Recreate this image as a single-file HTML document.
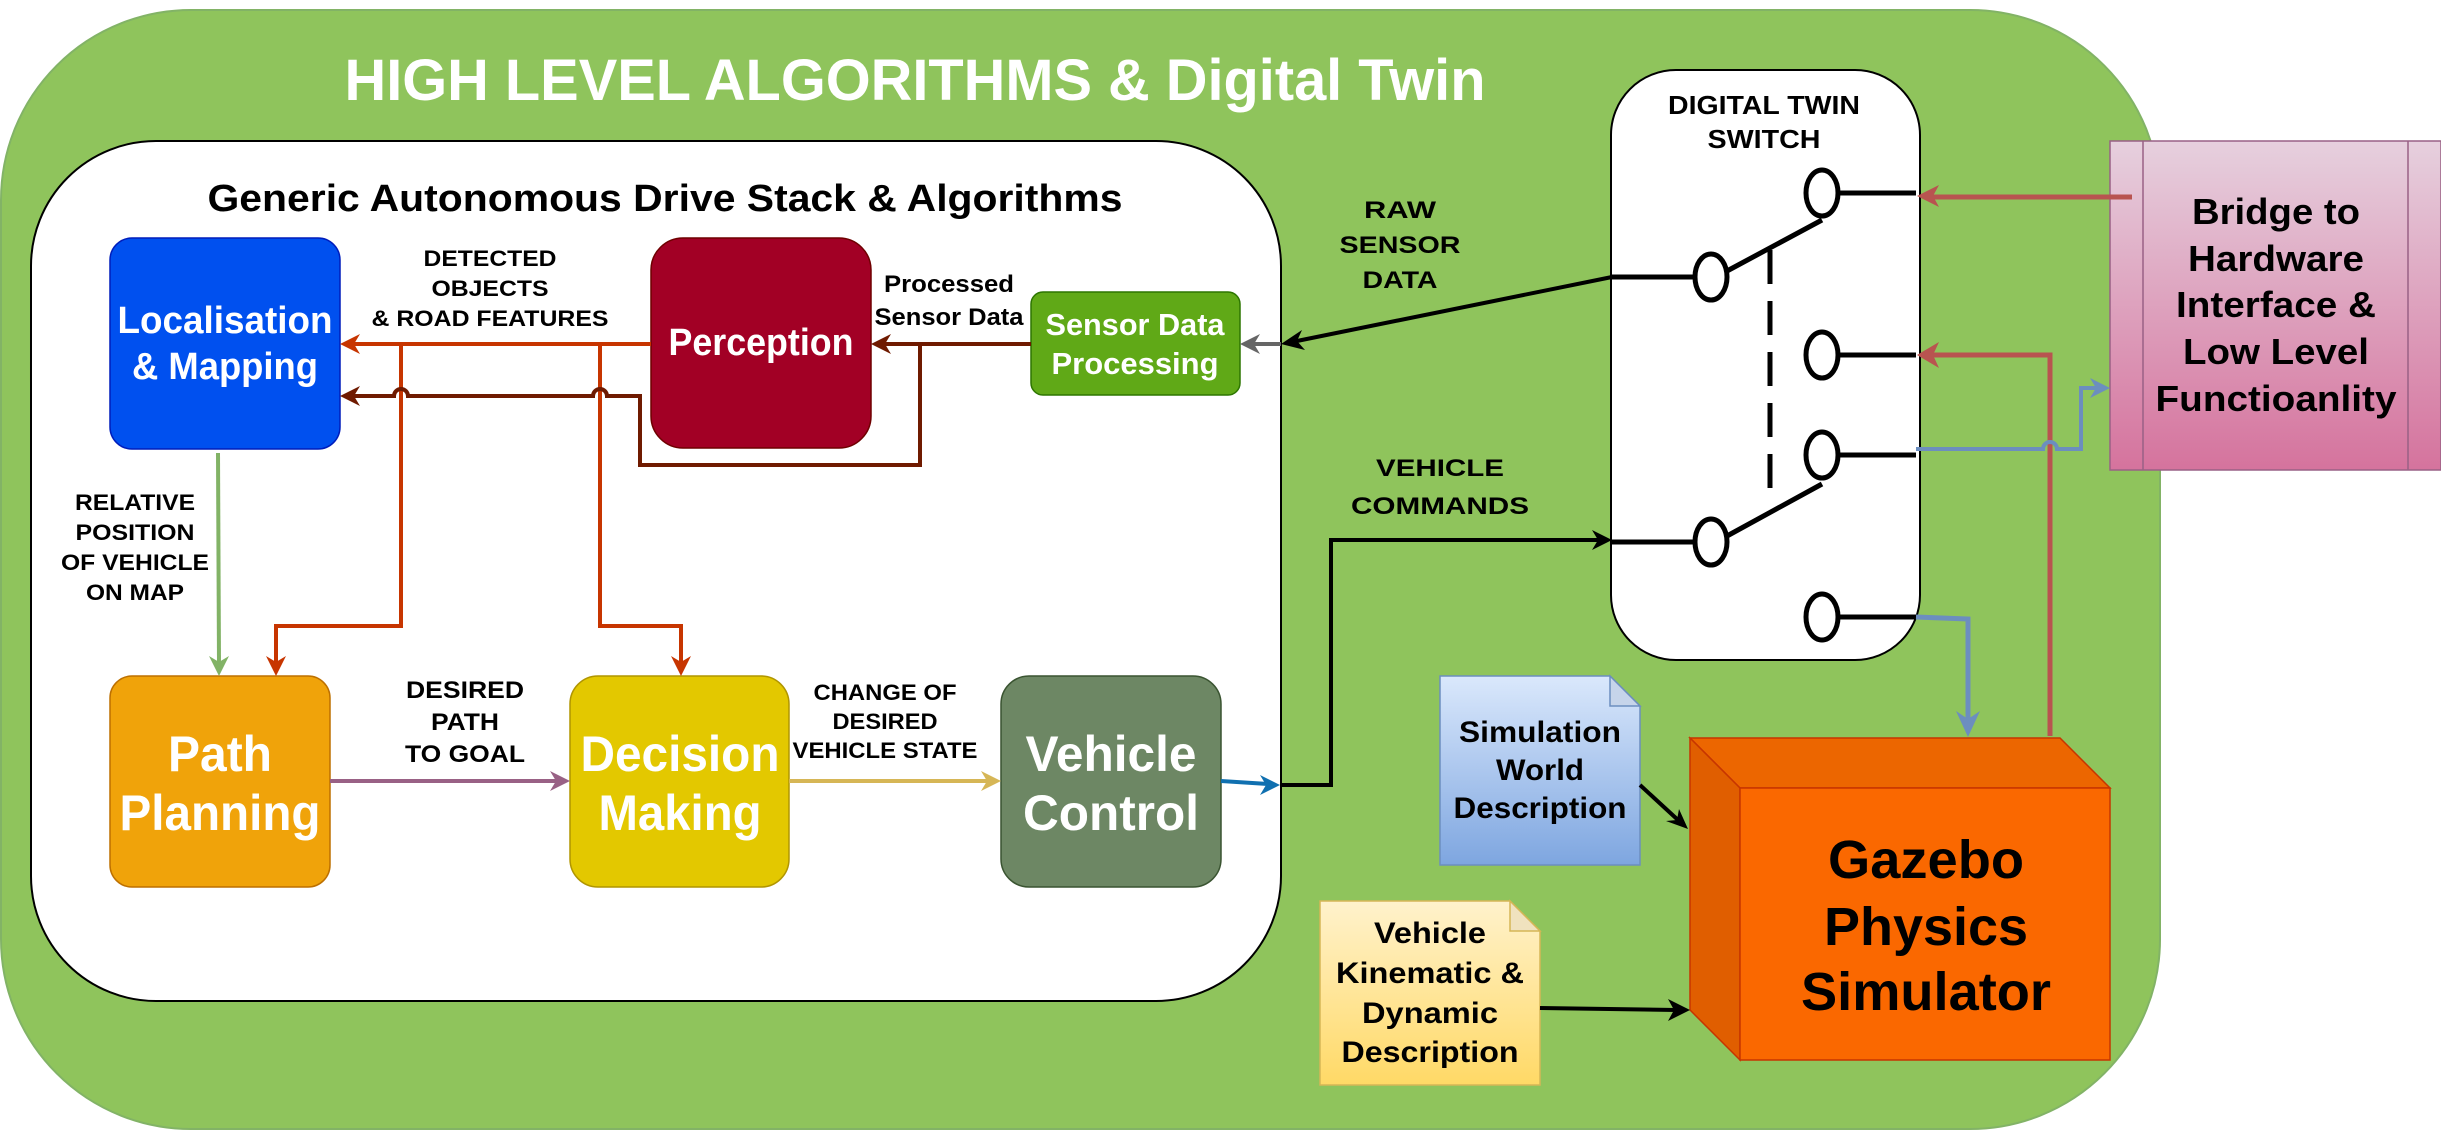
<!DOCTYPE html>
<html><head><meta charset="utf-8"><style>html,body{margin:0;padding:0;background:#fff}svg{display:block}text{font-family:"Liberation Sans",Arial,sans-serif;font-weight:bold}</style></head>
<body>
<svg width="2441" height="1131" viewBox="0 0 2441 1131" xmlns="http://www.w3.org/2000/svg">
<defs>
<linearGradient id="gb" x1="0" y1="0" x2="0" y2="1"><stop offset="0" stop-color="#E6D0DE"/><stop offset="1" stop-color="#D5739D"/></linearGradient>
<linearGradient id="gs" x1="0" y1="0" x2="0" y2="1"><stop offset="0" stop-color="#DAE8FC"/><stop offset="1" stop-color="#7EA6E0"/></linearGradient>
<linearGradient id="gv" x1="0" y1="0" x2="0" y2="1"><stop offset="0" stop-color="#FFF2CC"/><stop offset="1" stop-color="#FFD966"/></linearGradient>
</defs>
<!-- outer -->
<rect x="1" y="10" width="2159" height="1119" rx="190" fill="#8FC45C" stroke="#82B366" stroke-width="2"/>
<text x="915" y="100" font-size="58" fill="#fff" text-anchor="middle" textLength="1141" lengthAdjust="spacingAndGlyphs">HIGH LEVEL ALGORITHMS &amp; Digital Twin</text>
<!-- inner -->
<rect x="31" y="141" width="1250" height="860" rx="125" fill="#fff" stroke="#000" stroke-width="2"/>
<text x="665" y="211" font-size="38" fill="#000" text-anchor="middle" textLength="915" lengthAdjust="spacingAndGlyphs">Generic Autonomous Drive Stack &amp; Algorithms</text>

<!-- boxes -->
<rect x="110" y="238" width="230" height="211" rx="22" fill="#0050EF" stroke="#001DBC" stroke-width="1.5"/>
<text x="225" y="333" font-size="38" fill="#fff" text-anchor="middle" textLength="215" lengthAdjust="spacingAndGlyphs">Localisation</text>
<text x="225" y="379" font-size="38" fill="#fff" text-anchor="middle" textLength="186" lengthAdjust="spacingAndGlyphs">&amp; Mapping</text>

<rect x="651" y="238" width="220" height="210" rx="32" fill="#A20025" stroke="#6F0000" stroke-width="1.5"/>
<text x="761" y="355" font-size="38" fill="#fff" text-anchor="middle" textLength="185" lengthAdjust="spacingAndGlyphs">Perception</text>

<rect x="1031" y="292" width="209" height="103" rx="12" fill="#60A917" stroke="#2D7600" stroke-width="1.5"/>
<text x="1135" y="335" font-size="31" fill="#fff" text-anchor="middle" textLength="179" lengthAdjust="spacingAndGlyphs">Sensor Data</text>
<text x="1135" y="374" font-size="31" fill="#fff" text-anchor="middle" textLength="167" lengthAdjust="spacingAndGlyphs">Processing</text>

<rect x="110" y="676" width="220" height="211" rx="22" fill="#F0A30A" stroke="#BD7000" stroke-width="1.5"/>
<text x="220" y="771" font-size="50" fill="#fff" text-anchor="middle" textLength="104" lengthAdjust="spacingAndGlyphs">Path</text>
<text x="220" y="830" font-size="50" fill="#fff" text-anchor="middle" textLength="201" lengthAdjust="spacingAndGlyphs">Planning</text>

<rect x="570" y="676" width="219" height="211" rx="28" fill="#E3C800" stroke="#B09500" stroke-width="1.5"/>
<text x="680" y="771" font-size="50" fill="#fff" text-anchor="middle" textLength="199" lengthAdjust="spacingAndGlyphs">Decision</text>
<text x="680" y="830" font-size="50" fill="#fff" text-anchor="middle" textLength="163" lengthAdjust="spacingAndGlyphs">Making</text>

<rect x="1001" y="676" width="220" height="211" rx="28" fill="#6D8764" stroke="#3A5431" stroke-width="1.5"/>
<text x="1111" y="771" font-size="50" fill="#fff" text-anchor="middle" textLength="171" lengthAdjust="spacingAndGlyphs">Vehicle</text>
<text x="1111" y="830" font-size="50" fill="#fff" text-anchor="middle" textLength="176" lengthAdjust="spacingAndGlyphs">Control</text>

<!-- labels -->
<g font-size="22" fill="#000" text-anchor="middle">
<text x="490" y="266" textLength="133" lengthAdjust="spacingAndGlyphs">DETECTED</text>
<text x="490" y="296" textLength="117" lengthAdjust="spacingAndGlyphs">OBJECTS</text>
<text x="490" y="326" textLength="237" lengthAdjust="spacingAndGlyphs">&amp; ROAD FEATURES</text>
<text x="135" y="510" textLength="120" lengthAdjust="spacingAndGlyphs">RELATIVE</text>
<text x="135" y="540" textLength="119" lengthAdjust="spacingAndGlyphs">POSITION</text>
<text x="135" y="570" textLength="148" lengthAdjust="spacingAndGlyphs">OF VEHICLE</text>
<text x="135" y="600" textLength="98" lengthAdjust="spacingAndGlyphs">ON MAP</text>
<text x="885" y="700" textLength="143" lengthAdjust="spacingAndGlyphs">CHANGE OF</text>
<text x="885" y="729" textLength="105" lengthAdjust="spacingAndGlyphs">DESIRED</text>
<text x="885" y="758" textLength="185" lengthAdjust="spacingAndGlyphs">VEHICLE STATE</text>
</g>
<g font-size="24" fill="#000" text-anchor="middle">
<text x="949" y="292" textLength="130" lengthAdjust="spacingAndGlyphs">Processed</text>
<text x="949" y="325" textLength="149" lengthAdjust="spacingAndGlyphs">Sensor Data</text>
<text x="465" y="698" textLength="118" lengthAdjust="spacingAndGlyphs">DESIRED</text>
<text x="465" y="730" textLength="68" lengthAdjust="spacingAndGlyphs">PATH</text>
<text x="465" y="762" textLength="120" lengthAdjust="spacingAndGlyphs">TO GOAL</text>
<text x="1400" y="218" textLength="72" lengthAdjust="spacingAndGlyphs">RAW</text>
<text x="1400" y="253" textLength="121" lengthAdjust="spacingAndGlyphs">SENSOR</text>
<text x="1400" y="288" textLength="75" lengthAdjust="spacingAndGlyphs">DATA</text>
<text x="1440" y="476" textLength="128" lengthAdjust="spacingAndGlyphs">VEHICLE</text>
<text x="1440" y="514" textLength="178" lengthAdjust="spacingAndGlyphs">COMMANDS</text>
</g>

<!-- red-orange connectors -->
<g fill="none" stroke="#C73500" stroke-width="4">
<path d="M651 344 H352"/>
<path d="M401 344 V626 H276 V664"/>
<path d="M600 344 V626 H681 V664"/>
</g>
<g fill="#C73500">
<path d="M340 344 l20 -10 l-6 10 l6 10z"/>
<path d="M276 676 l-10 -20 l10 6 l10 -6z"/>
<path d="M681 676 l-10 -20 l10 6 l10 -6z"/>
</g>
<!-- dark brown -->
<g fill="none" stroke="#6F1A00" stroke-width="4">
<path d="M1031 344 H883"/>
<path d="M920 344 V465 H640 V396 H607 a7 7 0 0 0 -14 0 H408 a7 7 0 0 0 -14 0 H352"/>
</g>
<g fill="#6F1A00">
<path d="M871 344 l20 -10 l-6 10 l6 10z"/>
<path d="M340 396 l20 -10 l-6 10 l6 10z"/>
</g>
<!-- green -->
<path d="M218 453 L219 664" stroke="#82B366" stroke-width="4" fill="none"/>
<path d="M219 676 l-10 -20 l10 6 l10 -6z" fill="#82B366"/>
<!-- purple -->
<path d="M330 781 H558" stroke="#996185" stroke-width="4" fill="none"/>
<path d="M570 781 l-20 -10 l6 10 l-6 10z" fill="#996185"/>
<!-- yellow -->
<path d="M789 781 H989" stroke="#D6B656" stroke-width="4" fill="none"/>
<path d="M1001 781 l-20 -10 l6 10 l-6 10z" fill="#D6B656"/>
<!-- blue out -->
<path d="M1221 781 L1268 784" stroke="#1070B0" stroke-width="4" fill="none"/>
<path d="M1280 785 l-20 -10 l6 10 l-6 10z" fill="#1070B0"/>
<!-- black commands -->
<path d="M1280 785 H1331 V540 H1600" stroke="#000" stroke-width="4" fill="none"/>
<path d="M1612 540 l-20 -10 l6 10 l-6 10z" fill="#000"/>

<!-- switch -->
<rect x="1611" y="70" width="309" height="590" rx="65" fill="#fff" stroke="#000" stroke-width="2"/>
<text x="1764" y="114" font-size="26" text-anchor="middle" textLength="192" lengthAdjust="spacingAndGlyphs">DIGITAL TWIN</text>
<text x="1764" y="148" font-size="26" text-anchor="middle" textLength="113" lengthAdjust="spacingAndGlyphs">SWITCH</text>
<g fill="none" stroke="#000" stroke-width="5">
<ellipse cx="1822" cy="193" rx="16" ry="23"/>
<ellipse cx="1822" cy="355" rx="16" ry="23"/>
<ellipse cx="1822" cy="455" rx="16" ry="23"/>
<ellipse cx="1822" cy="617" rx="16" ry="23"/>
<ellipse cx="1711" cy="277" rx="16" ry="23"/>
<ellipse cx="1711" cy="542" rx="16" ry="23"/>
<path d="M1838 193 H1916 M1838 355 H1916 M1838 455 H1916 M1838 617 H1916"/>
<path d="M1612 277 H1695 M1612 542 H1695"/>
<path d="M1727 271 L1822 220 M1727 536 L1822 484"/>
<path d="M1770 250 V492" stroke-dasharray="34 17"/>
</g>
<!-- raw sensor arrow -->
<path d="M1612 277 L1292 342" stroke="#000" stroke-width="4" fill="none"/>
<path d="M1281 344 l21 -14 l-5 11 l8 9z" fill="#000"/>
<path d="M1281 344 H1252" stroke="#666" stroke-width="4"/>
<path d="M1240 344 l20 -10 l-6 10 l6 10z" fill="#666"/>

<!-- bridge -->
<rect x="2110" y="141" width="331" height="329" fill="url(#gb)" stroke="#996185" stroke-width="1.5"/>
<path d="M2143 141 V470 M2408 141 V470" stroke="#996185" stroke-width="1.5"/>
<g font-size="36" text-anchor="middle" fill="#000">
<text x="2276" y="224" textLength="168" lengthAdjust="spacingAndGlyphs">Bridge to</text>
<text x="2276" y="271" textLength="176" lengthAdjust="spacingAndGlyphs">Hardware</text>
<text x="2276" y="317" textLength="200" lengthAdjust="spacingAndGlyphs">Interface &amp;</text>
<text x="2276" y="364" textLength="186" lengthAdjust="spacingAndGlyphs">Low Level</text>
<text x="2276" y="411" textLength="241" lengthAdjust="spacingAndGlyphs">Functioanlity</text>
</g>
<!-- red arrows -->
<g fill="none" stroke="#B85450" stroke-width="5">
<path d="M2132 197 H1930"/>
<path d="M2050 736 V355 H1930"/>
</g>
<g fill="#B85450">
<path d="M1917 196 l22 -11 l-6 11 l6 11z"/>
<path d="M1917 355 l22 -13 l-6 13 l6 13z"/>
</g>
<!-- blue arrows -->
<g fill="none" stroke="#6C8EBF" stroke-width="4">
<path d="M1916 449 H2043 a7 7 0 0 1 14 0 H2081 V388 H2098"/>
<path d="M1916 617 L1968 619 V722" stroke-width="5"/>
</g>
<g fill="#6C8EBF">
<path d="M2110 388 l-20 -10 l6 10 l-6 10z"/>
<path d="M1968 737 l-12 -26 l12 8 l12 -8z"/>
</g>

<!-- cube -->
<path d="M1690 738 H2060 L2110 788 H1740 Z" fill="#EC6600" stroke="#C73500" stroke-width="1.5"/>
<path d="M1690 738 L1740 788 V1060 L1690 1010 Z" fill="#E05E00" stroke="#C73500" stroke-width="1.5"/>
<rect x="1740" y="788" width="370" height="272" fill="#FA6800" stroke="#C73500" stroke-width="1.5"/>
<g font-size="54" text-anchor="middle" fill="#000">
<text x="1926" y="878" textLength="196" lengthAdjust="spacingAndGlyphs">Gazebo</text>
<text x="1926" y="945" textLength="204" lengthAdjust="spacingAndGlyphs">Physics</text>
<text x="1926" y="1010" textLength="250" lengthAdjust="spacingAndGlyphs">Simulator</text>
</g>

<!-- notes -->
<path d="M1440 676 H1610 L1640 706 V865 H1440 Z" fill="url(#gs)" stroke="#6C8EBF" stroke-width="1.5"/>
<path d="M1610 676 V706 H1640 Z" fill="#C6D4EA" stroke="#6C8EBF" stroke-width="1.5"/>
<g font-size="30" text-anchor="middle" fill="#000">
<text x="1540" y="742" textLength="162" lengthAdjust="spacingAndGlyphs">Simulation</text>
<text x="1540" y="780" textLength="88" lengthAdjust="spacingAndGlyphs">World</text>
<text x="1540" y="818" textLength="173" lengthAdjust="spacingAndGlyphs">Description</text>
</g>
<path d="M1320 901 H1510 L1540 931 V1085 H1320 Z" fill="url(#gv)" stroke="#D6B656" stroke-width="1.5"/>
<path d="M1510 901 V931 H1540 Z" fill="#F0E2BE" stroke="#D6B656" stroke-width="1.5"/>
<g font-size="30" text-anchor="middle" fill="#000">
<text x="1430" y="943" textLength="112" lengthAdjust="spacingAndGlyphs">Vehicle</text>
<text x="1430" y="983" textLength="188" lengthAdjust="spacingAndGlyphs">Kinematic &amp;</text>
<text x="1430" y="1023" textLength="136" lengthAdjust="spacingAndGlyphs">Dynamic</text>
<text x="1430" y="1062" textLength="177" lengthAdjust="spacingAndGlyphs">Description</text>
</g>
<!-- black arrows to cube -->
<path d="M1640 785 L1678 820" stroke="#000" stroke-width="4" fill="none"/>
<path d="M1688 829 l-22 -8 l11 -1 l2 -11z" fill="#000"/>
<path d="M1540 1008 L1676 1010" stroke="#000" stroke-width="4" fill="none"/>
<path d="M1690 1010 l-22 -11 l6 11 l-6 11z" fill="#000"/>
</svg>
</body></html>
